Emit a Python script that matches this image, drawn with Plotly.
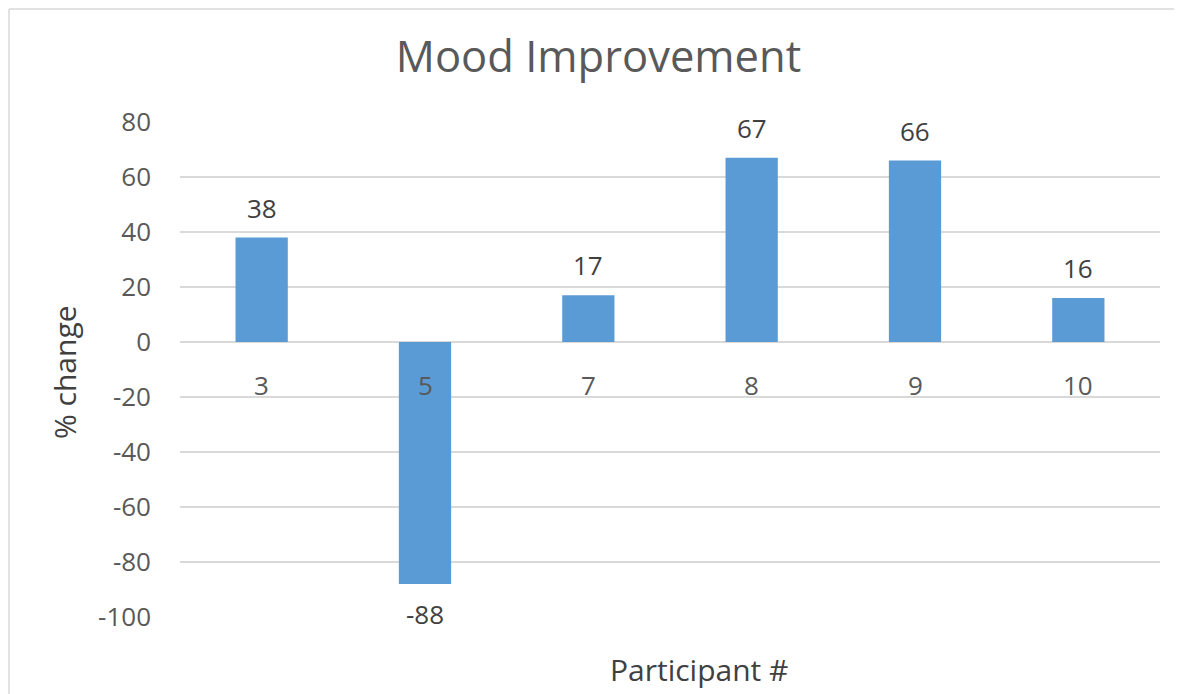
import plotly.graph_objects as go

participants = ["3", "5", "7", "8", "9", "10"]
pct_change = [38, -88, 17, 67, 66, 16]
y_ticks = [-100, -80, -60, -40, -20, 0, 20, 40, 60, 80]

FONT = "Open Sans"
BAR = "#5b9bd5"
GRID = "#d9d9d9"

# page body has an 8px margin, so the figure is offset by 8px
W, H = 1174, 686
L, R, T, B = 172, 22, 114, 77
PW, PH = W - L - R, H - T - B

fig = go.Figure()
fig.add_trace(go.Bar(
    x=participants, y=pct_change,
    marker=dict(color=BAR, line=dict(width=0)),
    hoverinfo="skip",
))

annotations = []
for i, v in enumerate(pct_change):
    annotations.append(dict(
        x=i, y=v, xref="x", yref="y", text=str(v), showarrow=False,
        yanchor="middle", yshift=30 if v >= 0 else -30,
        font=dict(family=FONT, size=26, color="#404040"),
    ))
for i, p in enumerate(participants):
    annotations.append(dict(
        x=i, y=0, xref="x", yref="y", text=p, showarrow=False,
        yanchor="middle", yshift=-43,
        font=dict(family=FONT, size=26, color="#595959"),
    ))
annotations.append(dict(
    x=(698.5 - 180) / 980, y=-0.107, xref="paper", yref="paper", text="Participant #",
    showarrow=False, xanchor="center", yanchor="middle",
    font=dict(family=FONT, size=30, color="#404040"),
))
annotations.append(dict(
    x=-0.1173, y=0.495, xref="paper", yref="paper", text="% change",
    showarrow=False, textangle=-90, xanchor="center", yanchor="middle",
    font=dict(family=FONT, size=30, color="#404040"),
))

fig.update_layout(
    width=W, height=H,
    margin=dict(l=L, r=R, t=T, b=B),
    paper_bgcolor="white", plot_bgcolor="white",
    showlegend=False,
    bargap=0.68,
    title=dict(text="Mood Improvement", x=(598.5 - 8) / W, xanchor="center",
               y=1 - 49 / H, yanchor="middle", yref="container",
               font=dict(family=FONT, size=43.5, color="#595959")),
    xaxis=dict(type="category", categoryorder="array", categoryarray=participants,
               showticklabels=False, showgrid=False, zeroline=False,
               showline=False, ticks=""),
    yaxis=dict(range=[-100, 80], tickvals=y_ticks,
               ticktext=[str(t) for t in y_ticks], showgrid=True,
               gridcolor=GRID, gridwidth=1.5, zeroline=True,
               zerolinecolor=GRID, zerolinewidth=1.5, showline=False,
               ticks="", ticklabelstandoff=28,
               tickfont=dict(family=FONT, size=26, color="#595959")),
    annotations=annotations,
    shapes=[
        dict(type="line", xref="paper", yref="paper",
             x0=(1 - L) / PW, x1=(1 - L) / PW,
             y0=-(B + 20) / PH, y1=1 + (T - 1) / PH,
             line=dict(color=GRID, width=1.5), layer="below"),
        dict(type="line", xref="paper", yref="paper",
             x0=(1 - L) / PW, x1=(W + 40 - L) / PW,
             y0=1 + (T - 1) / PH, y1=1 + (T - 1) / PH,
             line=dict(color=GRID, width=1.5), layer="below"),
    ],
)

fig.write_html("out.html")
